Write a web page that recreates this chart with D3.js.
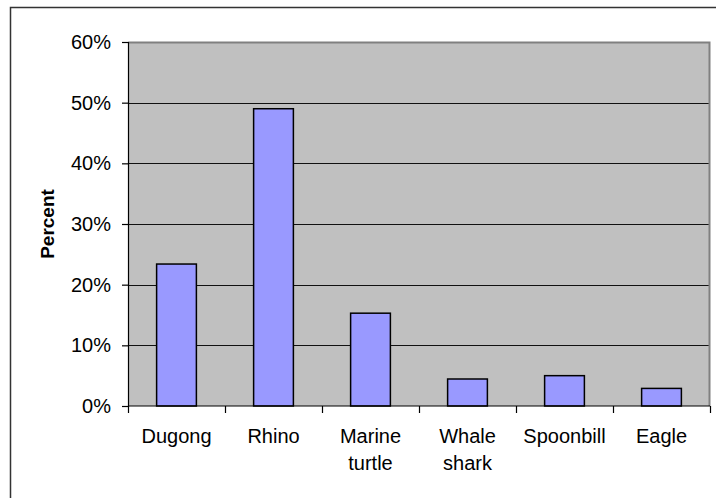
<!DOCTYPE html>
<html>
<head>
<meta charset="utf-8">
<script src="https://cdn.jsdelivr.net/npm/d3@7"></script>
<style>
  html, body { margin: 0; padding: 0; background: #fff; }
  svg { display: block; }
  text { font-family: "Liberation Sans", Arial, sans-serif; fill: #000; }
</style>
</head>
<body>
<svg id="chart" width="716" height="498"></svg>
<script>
const categories = ["Dugong", "Rhino", "Marine\nturtle", "Whale\nshark", "Spoonbill", "Eagle"];
const values = [0.234, 0.49, 0.153, 0.0445, 0.05, 0.029];
const yTicks = [0, 0.1, 0.2, 0.3, 0.4, 0.5, 0.6];
const yTitle = "Percent";

const W = 716, H = 498;
const plot = { left: 128, right: 710, top: 42, bottom: 406 };

const svg = d3.select("#chart");

// outer chart border (right/bottom fall outside the window)
svg.append("rect")
  .attr("x", 10.5).attr("y", 7.5)
  .attr("width", 740).attr("height", 520)
  .attr("fill", "#fff").attr("stroke", "#333").attr("stroke-width", 1.5);

const y = d3.scaleLinear().domain([0, 0.6]).range([plot.bottom, plot.top]);
const xOuter = d3.scaleBand().domain(categories).range([plot.left, plot.right]).padding(0);
const xBar = d3.scaleBand().domain(categories).range([plot.left, plot.right])
  .paddingInner(0.59).paddingOuter(0.295);

// plot area background
svg.append("rect")
  .attr("x", plot.left).attr("y", plot.top)
  .attr("width", plot.right - plot.left).attr("height", plot.bottom - plot.top)
  .attr("fill", "#C0C0C0");

// gridlines
svg.append("g")
  .selectAll("line")
  .data(yTicks.filter(t => t > 0 && t < 0.6))
  .join("line")
  .attr("x1", plot.left).attr("x2", plot.right)
  .attr("y1", d => Math.round(y(d)) + 0.5).attr("y2", d => Math.round(y(d)) + 0.5)
  .attr("stroke", "#111").attr("stroke-width", 1.2);

// plot border (top & right gray)
svg.append("path")
  .attr("d", `M${plot.left},${plot.top + 0.5}H${plot.right - 0.5}V${plot.bottom}`)
  .attr("fill", "none").attr("stroke", "#808080").attr("stroke-width", 2);

// bars
svg.append("g")
  .selectAll("rect")
  .data(categories)
  .join("rect")
  .attr("x", d => xBar(d))
  .attr("width", xBar.bandwidth())
  .attr("y", (d, i) => y(values[i]))
  .attr("height", (d, i) => y(0) - y(values[i]))
  .attr("fill", "#9999FF")
  .attr("stroke", "#000").attr("stroke-width", 1.5);

// y axis
const yAxis = d3.axisLeft(y)
  .tickValues(yTicks)
  .tickFormat(d3.format(".0%"))
  .tickSize(6).tickPadding(11);
const gy = svg.append("g").attr("transform", `translate(${plot.left},0)`).call(yAxis);
gy.select(".domain").attr("stroke", "#000").attr("stroke-width", 1.2);
gy.selectAll(".tick line").attr("stroke", "#000").attr("stroke-width", 1.2);
gy.selectAll(".tick text")
  .attr("font-size", 20).attr("font-family", "Liberation Sans, Arial, sans-serif")
  .attr("fill", "#000");

// x axis (labels only via axis; boundary ticks drawn from outer band scale)
const xAxis = d3.axisBottom(xOuter).tickSize(0).tickPadding(0);
const gx = svg.append("g").attr("transform", `translate(0,${plot.bottom})`).call(xAxis);
gx.select(".domain").remove();
gx.selectAll(".tick text").each(function(d) {
  const t = d3.select(this);
  t.text(null).attr("y", 0).attr("dy", null)
    .attr("font-size", 20).attr("font-family", "Liberation Sans, Arial, sans-serif")
    .attr("fill", "#000");
  d.split("\n").forEach((line, i) => {
    t.append("tspan").attr("x", 0).attr("y", 37 + i * 27).text(line);
  });
});

svg.append("line")
  .attr("x1", plot.left).attr("x2", plot.right)
  .attr("y1", plot.bottom).attr("y2", plot.bottom)
  .attr("stroke", "#000").attr("stroke-width", 1.2);

const boundaries = categories.map(c => xOuter(c)).concat([plot.right]);
svg.append("g")
  .selectAll("line")
  .data(boundaries)
  .join("line")
  .attr("x1", d => Math.round(d) + 0.5).attr("x2", d => Math.round(d) + 0.5)
  .attr("y1", plot.bottom).attr("y2", plot.bottom + 7)
  .attr("stroke", "#000").attr("stroke-width", 1.2);

// y title
svg.append("text")
  .attr("transform", `translate(54,${(plot.top + plot.bottom) / 2}) rotate(-90)`)
  .attr("text-anchor", "middle")
  .attr("font-size", 19).attr("font-weight", "bold")
  .text(yTitle);
</script>
</body>
</html>
